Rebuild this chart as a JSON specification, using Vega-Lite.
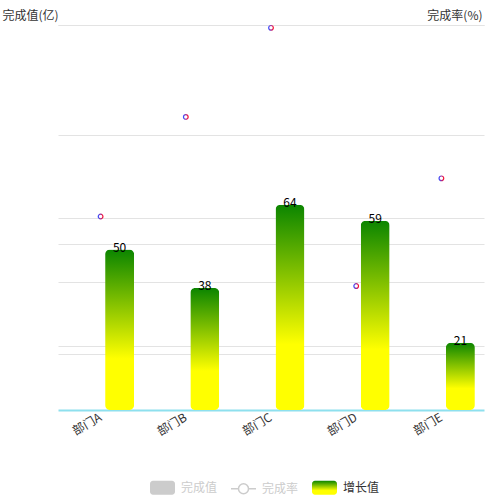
{
  "$schema": "https://vega.github.io/schema/vega-lite/v6.json",
  "autosize": "none",
  "width": 426,
  "height": 385,
  "padding": {"left": 58, "top": 25, "right": 16, "bottom": 90},
  "background": "white",
  "data": {
    "values": [
      {"dept": "部门A", "growth": 50, "rate": 112.7, "series": "增长值"},
      {"dept": "部门B", "growth": 38, "rate": 158.1, "series": "增长值"},
      {"dept": "部门C", "growth": 64, "rate": 198.7, "series": "增长值"},
      {"dept": "部门D", "growth": 59, "rate": 81.0, "series": "增长值"},
      {"dept": "部门E", "growth": 21, "rate": 130.1, "series": "增长值"}
    ]
  },
  "encoding": {
    "x": {
      "field": "dept",
      "type": "nominal",
      "sort": null,
      "scale": {"paddingInner": 0, "paddingOuter": 0},
      "axis": {
        "title": null,
        "domainColor": "#8ee0ee",
        "domainWidth": 2,
        "ticks": false,
        "grid": false,
        "labelAngle": -30,
        "labelAlign": "right",
        "labelBaseline": "middle",
        "labelPadding": 6,
        "labelFontSize": 12,
        "labelColor": "#333"
      }
    }
  },
  "layer": [
    {
      "layer": [
        {
          "mark": {
            "type": "bar",
            "width": 29,
            "xOffset": 19,
            "cornerRadius": 5,
            "fill": {
              "gradient": "linear",
              "x1": 0, "y1": 0, "x2": 0, "y2": 1,
              "stops": [
                {"offset": 0, "color": "#0b8500"},
                {"offset": 0.68, "color": "#ffff00"},
                {"offset": 1, "color": "#ffff00"}
              ]
            }
          },
          "encoding": {
            "y": {
              "field": "growth",
              "type": "quantitative",
              "scale": {"domain": [0, 120], "nice": false, "zero": true},
              "axis": {
                "orient": "left",
                "values": [20, 40, 60, 120],
                "grid": true,
                "gridColor": "#e3e3e3",
                "labels": false,
                "ticks": false,
                "domain": false,
                "title": "完成值(亿)",
                "titleAngle": 0,
                "titleX": 0,
                "titleY": -10,
                "titleAlign": "right",
                "titleBaseline": "middle",
                "titleFontWeight": "normal",
                "titleFontSize": 12,
                "titleColor": "#333"
              }
            }
          }
        },
        {
          "mark": {"type": "text", "xOffset": 19, "dy": 2, "baseline": "alphabetic", "fontSize": 12, "color": "#000"},
          "encoding": {
            "y": {"field": "growth", "type": "quantitative"},
            "text": {"field": "growth", "type": "quantitative"}
          }
        },
        {
          "mark": {
            "type": "point",
            "filled": true,
            "opacity": 0,
            "strokeWidth": 1.5,
            "fill": {"expr": "datum.value === '增长值' ? {gradient: 'linear', x1: 0, y1: 0, x2: 0, y2: 1, stops: [{offset: 0, color: '#0b8500'}, {offset: 0.7, color: '#ffff00'}, {offset: 1, color: '#ffff00'}]} : datum.value === '完成率' ? '#fff' : '#ccc'"},
            "stroke": {"expr": "datum.value === '完成率' ? '#ccc' : 'transparent'"}
          },
          "encoding": {
            "y": {"field": "growth", "type": "quantitative"},
            "shape": {
              "field": "series",
              "type": "nominal",
              "scale": {
                "domain": ["完成值", "完成率", "增长值"],
                "range": [
                  "M-0.76,-0.56H0.76A0.24,0.24 0 0 1 1,-0.32V0.32A0.24,0.24 0 0 1 0.76,0.56H-0.76A0.24,0.24 0 0 1 -1,0.32V-0.32A0.24,0.24 0 0 1 -0.76,-0.56Z",
                  "M-1,0L-0.4,0M0.4,0L1,0M-0.4,0A0.4,0.4 0 1 1 0.4,0A0.4,0.4 0 1 1 -0.4,0Z",
                  "M-0.76,-0.56H0.76A0.24,0.24 0 0 1 1,-0.32V0.32A0.24,0.24 0 0 1 0.76,0.56H-0.76A0.24,0.24 0 0 1 -1,0.32V-0.32A0.24,0.24 0 0 1 -0.76,-0.56Z"
                ]
              },
              "legend": {
                "title": null,
                "orient": "none",
                "direction": "horizontal",
                "legendX": 91,
                "legendY": 449,
                "padding": 0,
                "symbolSize": 625,
                "symbolOpacity": 1,
                "symbolStrokeWidth": 1.5,
                "labelColor": {"expr": "datum.value === '增长值' ? '#333' : '#ccc'"},
                "labelOffset": 5,
                "columnPadding": 10,
                "labelFontSize": 12
              }
            }
          }
        }
      ]
    },
    {
      "mark": {
        "type": "circle",
        "size": 22,
        "fill": "#fff",
        "opacity": 1,
        "strokeWidth": 1.2,
        "stroke": {
          "gradient": "linear",
          "x1": 0, "y1": 0, "x2": 1, "y2": 0,
          "stops": [
            {"offset": 0, "color": "#3a4cff"},
            {"offset": 1, "color": "#ff1030"}
          ]
        }
      },
      "encoding": {
        "y": {
          "field": "rate",
          "type": "quantitative",
          "scale": {"domain": [24.5, 200], "nice": false, "zero": false},
          "axis": {
            "orient": "right",
            "values": [50, 100, 150, 200],
            "grid": true,
            "gridColor": "#e3e3e3",
            "labels": false,
            "ticks": false,
            "domain": false,
            "title": "完成率(%)",
            "titleAngle": 0,
            "titleX": -2,
            "titleY": -10,
            "titleAlign": "right",
            "titleBaseline": "middle",
            "titleFontWeight": "normal",
            "titleFontSize": 12,
            "titleColor": "#333"
          }
        }
      }
    }
  ],
  "resolve": {"scale": {"y": "independent"}},
  "config": {
    "font": "Noto Sans CJK SC",
    "view": {"stroke": null},
    "axis": {"labelFont": "Noto Sans CJK SC", "titleFont": "Noto Sans CJK SC"},
    "legend": {"labelFont": "Noto Sans CJK SC"}
  }
}
